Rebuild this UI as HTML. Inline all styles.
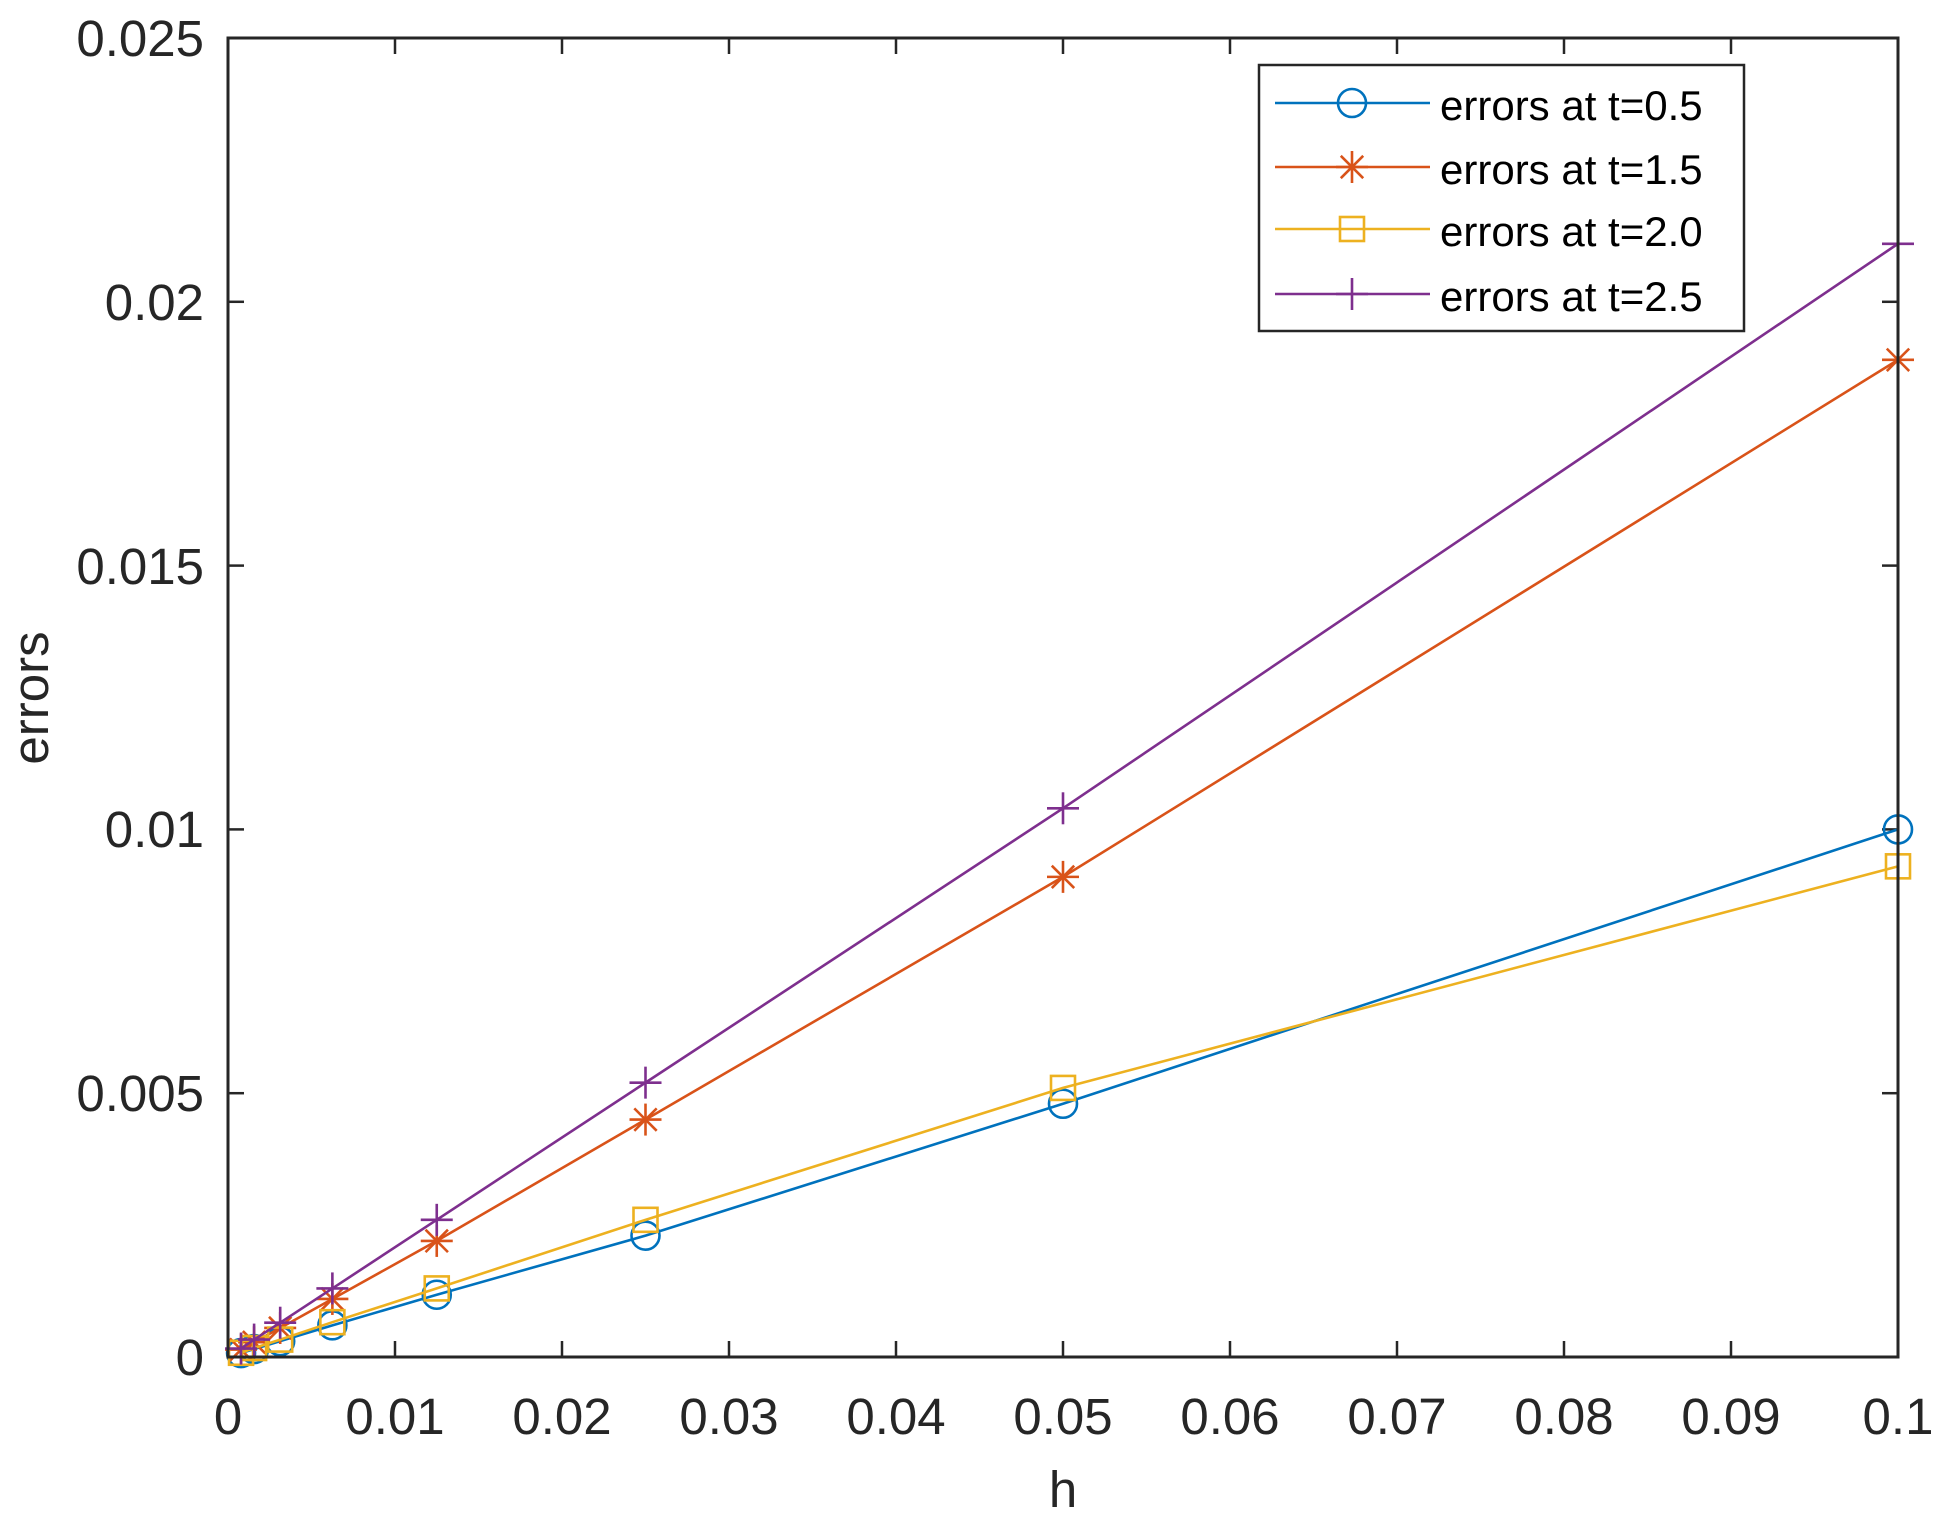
<!DOCTYPE html>
<html><head><meta charset="utf-8"><style>
html,body{margin:0;padding:0;background:#fff;}
svg{display:block;font-family:"Liberation Sans",Arial,sans-serif;}
</style></head><body>
<svg id="s" width="1954" height="1535" viewBox="0 0 1954 1535" xmlns="http://www.w3.org/2000/svg">
<rect width="1954" height="1535" fill="#fff"/>
<g id="ticks" stroke="#262626" stroke-width="2.5"></g>
<g fill="#262626" font-size="51">
<g text-anchor="end">
<text x="204" y="1375">0</text>
<text x="204" y="1111">0.005</text>
<text x="204" y="847">0.01</text>
<text x="204" y="584">0.015</text>
<text x="204" y="320">0.02</text>
<text x="204" y="56">0.025</text>
</g>
<g text-anchor="middle">
<text x="228" y="1434">0</text>
<text x="395" y="1434">0.01</text>
<text x="562" y="1434">0.02</text>
<text x="729" y="1434">0.03</text>
<text x="896" y="1434">0.04</text>
<text x="1063" y="1434">0.05</text>
<text x="1230" y="1434">0.06</text>
<text x="1397" y="1434">0.07</text>
<text x="1564" y="1434">0.08</text>
<text x="1731" y="1434">0.09</text>
<text x="1898" y="1434">0.1</text>
<text x="1063" y="1507">h</text>
<text transform="translate(48,698) rotate(-90)">errors</text>
</g>
</g>
<g id="series" fill="none" stroke-width="2.6"></g>
<rect x="228" y="38" width="1670" height="1319" fill="none" stroke="#262626" stroke-width="3"/>
<g>
<rect x="1259" y="65" width="485" height="266" fill="#fff" stroke="#262626" stroke-width="2.5"/>
<g fill="#000" font-size="42">
<text x="1440" y="120">errors at t=0.5</text>
<text x="1440" y="184">errors at t=1.5</text>
<text x="1440" y="246">errors at t=2.0</text>
<text x="1440" y="311">errors at t=2.5</text>
</g>
<g id="leg" fill="none" stroke-width="2.6"></g>
</g>
<script>
var ns="http://www.w3.org/2000/svg";
function el(p,t,a){var e=document.createElementNS(ns,t);for(var k in a)e.setAttribute(k,a[k]);p.appendChild(e);return e;}
var T=document.getElementById("ticks");
for(var i=0;i<=10;i++){var x=228+i*167;el(T,"line",{x1:x,y1:1357,x2:x,y2:1341});el(T,"line",{x1:x,y1:38,x2:x,y2:54});}
for(var j=0;j<=5;j++){var y=1357-j*263.8;el(T,"line",{x1:228,y1:y,x2:244,y2:y});el(T,"line",{x1:1898,y1:y,x2:1882,y2:y});}
function mk(g,type,x,y,c){
 if(type=="o")el(g,"circle",{cx:x,cy:y,r:14,stroke:c});
 else if(type=="s")el(g,"rect",{x:x-12,y:y-12,width:24,height:24,stroke:c});
 else if(type=="+"){el(g,"line",{x1:x-16,y1:y,x2:x+16,y2:y,stroke:c});el(g,"line",{x1:x,y1:y-16,x2:x,y2:y+16,stroke:c});}
 else {var r=16;el(g,"line",{x1:x,y1:y-r,x2:x,y2:y+r,stroke:c});el(g,"line",{x1:x-r,y1:y,x2:x+r,y2:y,stroke:c});
  var d=r*0.7;el(g,"line",{x1:x-d,y1:y-d,x2:x+d,y2:y+d,stroke:c});el(g,"line",{x1:x-d,y1:y+d,x2:x+d,y2:y-d,stroke:c});}
}
var h=[0.1,0.05,0.025,0.0125,0.00625,0.003125,0.0015625,0.00078125];
var S=[
 ["#0072BD","o",[0.01,0.0048,0.0023,0.00118,0.0006,0.0003,0.00015,0.000075]],
 ["#D95319","*",[0.0189,0.0091,0.0045,0.0022,0.0011,0.00055,0.00028,0.00014]],
 ["#EDB120","s",[0.0093,0.0051,0.0026,0.0013,0.00066,0.00033,0.00017,0.00008]],
 ["#7E2F8E","+",[0.0211,0.0104,0.0052,0.0026,0.0013,0.00065,0.00033,0.00016]]];
var G=document.getElementById("series"),L=document.getElementById("leg");
var ly=[103,167,229,294];
S.forEach(function(s,k){
 var pts=h.map(function(v,i){return [228+v/0.1*1670,1357-s[2][i]/0.025*1319];});
 el(G,"polyline",{points:pts.map(function(p){return p.join(",")}).join(" "),stroke:s[0]});
 pts.forEach(function(p){mk(G,s[1],p[0],p[1],s[0]);});
 el(L,"line",{x1:1275,y1:ly[k],x2:1430,y2:ly[k],stroke:s[0]});
 mk(L,s[1],1352,ly[k],s[0]);
});
</script>
</svg>
</body></html>
